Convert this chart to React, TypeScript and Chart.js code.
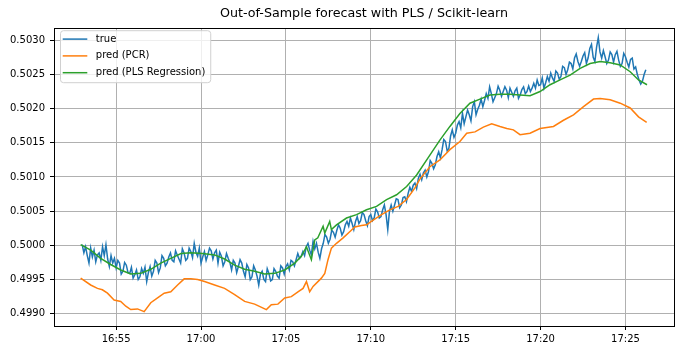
import React, { useEffect, useRef } from "react";
import { Chart, registerables } from "chart.js";

Chart.register(...registerables);

const FONT = "DejaVu Sans";
const chartTitle = "Out-of-Sample forecast with PLS / Scikit-learn";
const seriesNames = ["true", "pred (PCR)", "pred (PLS Regression)"];
const seriesColors = ["#1f77b4", "#ff7f0e", "#2ca02c"];

// time axis in minutes after 16:00
const xTickMinutes = [55, 60, 65, 70, 75, 80, 85];
const xTickLabels = ["16:55", "17:00", "17:05", "17:10", "17:15", "17:20", "17:25"];
const xMin = 51.34;
const xMax = 87.86;

const yTickValues = [0.499, 0.4995, 0.5, 0.5005, 0.501, 0.5015, 0.502, 0.5025, 0.503];
const yTickLabels = ["0.4990", "0.4995", "0.5000", "0.5005", "0.5010", "0.5015", "0.5020", "0.5025", "0.5030"];
const yMin = 0.49882;
const yMax = 0.50318;

// "true" series sampled every 0.1 min from 16:53 (one row = one minute)
const trueStartMinute = 53.0;
const trueStepMinutes = 0.1;
const trueValues = [
  0.50001, 0.49989, 0.49998, 0.49985, 0.49974, 0.49996, 0.49983, 0.49993, 0.49976, 0.49986,
  0.49989, 0.49978, 0.49998, 0.49985, 0.50001, 0.4998, 0.49969, 0.49985, 0.49974, 0.49981,
  0.49967, 0.49978, 0.49974, 0.49958, 0.49962, 0.49975, 0.49971, 0.4996, 0.49959, 0.49968,
  0.49952, 0.49957, 0.49964, 0.4995, 0.49954, 0.49966, 0.49959, 0.49968, 0.49947, 0.4996,
  0.49969, 0.49955, 0.49962, 0.49978, 0.49974, 0.4996, 0.49967, 0.49985, 0.49981, 0.4997,
  0.49974, 0.49983, 0.49989, 0.49978, 0.49976, 0.49992, 0.49986, 0.4998, 0.49974, 0.49995,
  0.49989, 0.49978, 0.49981, 0.49996, 0.49991, 0.49982, 0.50003, 0.4999, 0.49984, 0.49996,
  0.49974, 0.49983, 0.49991, 0.49978, 0.49986, 0.49996, 0.49992, 0.4998, 0.49989, 0.49993,
  0.49974, 0.4999, 0.49984, 0.4997, 0.49976, 0.49988, 0.49981, 0.49975, 0.49964, 0.49978,
  0.49974, 0.4996, 0.49969, 0.49979, 0.49974, 0.49962, 0.49954, 0.49972, 0.49967, 0.4995,
  0.49954, 0.4997, 0.49964, 0.49955, 0.49942, 0.49958, 0.49962, 0.4995, 0.49947, 0.49966,
  0.49959, 0.49948, 0.4995, 0.49966, 0.49962, 0.49955, 0.49952, 0.4997, 0.49967, 0.49958,
  0.49969, 0.49973, 0.49964, 0.49978, 0.49976, 0.4997, 0.49979, 0.49988, 0.49981, 0.49984,
  0.49991, 0.49985, 0.49998, 0.50003, 0.49993, 0.49986, 0.50006, 0.49995, 0.50003, 0.4999,
  0.49981, 0.49995, 0.50003, 0.50016, 0.50012, 0.50003, 0.50009, 0.50022, 0.50019, 0.50012,
  0.50022, 0.5003, 0.50025, 0.50015, 0.5002, 0.5003, 0.50035, 0.50028, 0.5004, 0.50032,
  0.50023, 0.50035, 0.50042, 0.50032, 0.50036, 0.50048, 0.50045, 0.50036, 0.50029, 0.50042,
  0.50045, 0.50036, 0.5004, 0.50053, 0.50049, 0.5004, 0.50042, 0.50052, 0.50059, 0.50045,
  0.50023, 0.5005, 0.50059, 0.5005, 0.50059, 0.50068, 0.50067, 0.50055, 0.50059, 0.5007,
  0.50071, 0.50064, 0.50076, 0.50085, 0.50079, 0.50088, 0.50091, 0.50083, 0.50098, 0.50104,
  0.50096, 0.50106, 0.5011, 0.501, 0.50108, 0.50124, 0.5012, 0.50112, 0.50118, 0.5013,
  0.50137, 0.50128, 0.5014, 0.50155, 0.50152, 0.50138, 0.50142, 0.5016, 0.50169, 0.50158,
  0.50164, 0.50176, 0.50181, 0.50172, 0.50193, 0.50178, 0.50188, 0.50198, 0.50191, 0.50182,
  0.50203, 0.5021, 0.50191, 0.50199, 0.50205, 0.50214, 0.50203, 0.50212, 0.50222, 0.50215,
  0.50232, 0.50222, 0.5021, 0.50216, 0.50222, 0.50233, 0.50227, 0.50218, 0.50225, 0.50232,
  0.50227, 0.50216, 0.5023, 0.50224, 0.50218, 0.50226, 0.5023, 0.50215, 0.5022, 0.50228,
  0.50232, 0.50222, 0.50225, 0.50233, 0.50225, 0.5023, 0.50237, 0.5023, 0.50242, 0.50234,
  0.50235, 0.50245, 0.5023, 0.50238, 0.50247, 0.5024, 0.50252, 0.50245, 0.5024, 0.50255,
  0.50252, 0.50243, 0.50247, 0.50262, 0.5026, 0.5025, 0.50257, 0.50268, 0.50266, 0.50258,
  0.50274, 0.5028, 0.50269, 0.50262, 0.50269, 0.50277, 0.50282, 0.50266, 0.50274, 0.50288,
  0.50294, 0.50275, 0.50269, 0.5029, 0.50304, 0.50283, 0.50274, 0.50285, 0.50276, 0.50266,
  0.50271, 0.50283, 0.50279, 0.50268, 0.50279, 0.50284, 0.50271, 0.50262, 0.50266, 0.50281,
  0.50276, 0.50268, 0.50261, 0.50272, 0.50274, 0.50258, 0.50261, 0.5025, 0.50242, 0.50236,
  0.5024, 0.5025, 0.50257,
];

const pcrMinutes = [
  52.91, 53.5, 53.9, 54.19, 54.49, 54.88, 55.27, 55.57, 55.86, 56.26,
  56.65, 57.04, 57.44, 57.83, 58.22, 58.62, 59.01, 59.4, 59.8, 60.21,
  60.8, 61.39, 61.98, 62.57, 63.16, 63.85, 64.14, 64.53, 64.93, 65.32,
  65.71, 66.01, 66.21, 66.4, 66.6, 67.09, 67.29, 67.48, 67.68, 67.98,
  68.37, 68.76, 69.06, 69.45, 69.75, 70.14, 70.63, 71.12, 71.61, 72.11,
  72.6, 72.89, 73.48, 74.07, 74.66, 75.25, 75.65, 76.14, 76.63, 77.12,
  77.61, 78.01, 78.4, 78.79, 79.38, 79.97, 80.76, 81.35, 81.94, 82.53,
  83.12, 83.51, 84.1, 84.69, 85.28, 85.77, 86.25,
];
const pcrValues = [
  0.49952, 0.49942, 0.49937, 0.49935, 0.4993, 0.4992, 0.49918, 0.49911, 0.49906, 0.49907,
  0.49903, 0.49916, 0.49923, 0.4993, 0.49932, 0.49942, 0.49951, 0.49951, 0.4995, 0.49947,
  0.49942, 0.49937, 0.49928, 0.49918, 0.49914, 0.49906, 0.49913, 0.49914, 0.49923, 0.49925,
  0.49932, 0.49937, 0.49947, 0.49932, 0.4994, 0.49952, 0.49959, 0.49979, 0.49996, 0.50003,
  0.50011, 0.5002, 0.50027, 0.50029, 0.5003, 0.50037, 0.50045, 0.50052, 0.50057, 0.50067,
  0.50084, 0.50097, 0.50115, 0.50125, 0.5014, 0.50152, 0.50164, 0.50166, 0.50173, 0.50178,
  0.50174, 0.50171, 0.50169, 0.50162, 0.50164, 0.50171, 0.50174, 0.50183, 0.50191, 0.50203,
  0.50214, 0.50215, 0.50213, 0.50208, 0.50201, 0.50188, 0.5018,
];

const plsMinutes = [
  52.91, 53.5, 54.09, 54.68, 55.27, 55.86, 56.45, 57.04, 57.63, 58.22,
  58.82, 59.4, 60.09, 60.8, 61.39, 61.98, 62.57, 63.16, 63.75, 64.34,
  64.93, 65.52, 65.91, 66.21, 66.5, 66.7, 66.88, 67.19, 67.29, 67.58,
  67.68, 67.98, 68.57, 69.16, 69.75, 70.34, 70.93, 71.52, 72.11, 72.7,
  73.48, 74.07, 74.66, 75.25, 75.84, 76.43, 77.02, 77.61, 78.2, 78.79,
  79.38, 79.97, 80.56, 81.15, 81.74, 82.33, 82.92, 83.51, 84.1, 84.69,
  85.28, 85.77, 86.27,
];
const plsValues = [
  0.50001, 0.49993, 0.49981, 0.49972, 0.49964, 0.49958, 0.49959, 0.49965, 0.49974, 0.49981,
  0.49988, 0.49989, 0.49988, 0.49986, 0.4998, 0.49971, 0.49965, 0.49962, 0.49958, 0.49959,
  0.49964, 0.49974, 0.49984, 0.49998, 0.49979, 0.50008, 0.50011, 0.50028, 0.50018, 0.50035,
  0.50023, 0.5003, 0.5004, 0.50045, 0.50052, 0.50057, 0.50067, 0.50074, 0.50086, 0.50103,
  0.50132, 0.50154, 0.50174, 0.50193, 0.50208, 0.50214, 0.5022, 0.50221, 0.50221, 0.5022,
  0.50219, 0.50225, 0.50235, 0.50242, 0.50249, 0.50259, 0.50266, 0.50269, 0.50267, 0.50264,
  0.50254, 0.50242, 0.50235,
];

export default function App() {
  const ref = useRef<HTMLCanvasElement>(null);

  useEffect(() => {
    const canvas = ref.current;
    if (!canvas) return;

    const trueData = trueValues.map((v, i) => ({ x: trueStartMinute + i * trueStepMinutes, y: v }));
    const pcrData = pcrMinutes.map((m, i) => ({ x: m, y: pcrValues[i] }));
    const plsData = plsMinutes.map((m, i) => ({ x: m, y: plsValues[i] }));

    const framePlugin = {
      id: "frameAndLegend",
      afterDatasetsDraw(chart: any) {
        const { ctx, chartArea: a } = chart;
        ctx.save();
        // axes frame
        const l = Math.round(a.left);
        const t = Math.round(a.top);
        const r = Math.round(a.right);
        const b = Math.round(a.bottom);
        ctx.strokeStyle = "#000";
        ctx.lineWidth = 1;
        ctx.strokeRect(l + 0.5, t + 0.5, r - l, b - t);

        // legend box
        ctx.font = `10px "${FONT}"`;
        const textW = Math.max(...seriesNames.map((n) => ctx.measureText(n).width));
        const bx = a.left + 6.5;
        const by = a.top + 2.7;
        const bw = 35.3 + textW + 5.4;
        const bh = 52;
        const rad = 3;
        ctx.beginPath();
        ctx.moveTo(bx + rad, by);
        ctx.lineTo(bx + bw - rad, by);
        ctx.quadraticCurveTo(bx + bw, by, bx + bw, by + rad);
        ctx.lineTo(bx + bw, by + bh - rad);
        ctx.quadraticCurveTo(bx + bw, by + bh, bx + bw - rad, by + bh);
        ctx.lineTo(bx + rad, by + bh);
        ctx.quadraticCurveTo(bx, by + bh, bx, by + bh - rad);
        ctx.lineTo(bx, by + rad);
        ctx.quadraticCurveTo(bx, by, bx + rad, by);
        ctx.closePath();
        ctx.fillStyle = "rgba(255,255,255,0.8)";
        ctx.fill();
        ctx.strokeStyle = "#d0d0d0";
        ctx.lineWidth = 1;
        ctx.stroke();

        seriesNames.forEach((name, i) => {
          const y = by + 8.4 + i * 16.8;
          ctx.beginPath();
          ctx.moveTo(bx + 2.2, y);
          ctx.lineTo(bx + 26.8, y);
          ctx.strokeStyle = seriesColors[i];
          ctx.lineWidth = 1.5;
          ctx.stroke();
          ctx.fillStyle = "#000";
          ctx.textBaseline = "middle";
          ctx.textAlign = "left";
          ctx.fillText(name, bx + 35.3, y);
        });
        ctx.restore();
      },
    };

    const chart = new Chart(canvas, {
      type: "line",
      data: {
        datasets: [
          {
            label: seriesNames[0],
            data: trueData,
            borderColor: seriesColors[0],
            backgroundColor: seriesColors[0],
            borderWidth: 1.5,
            pointRadius: 0,
            tension: 0,
            order: 3,
          },
          {
            label: seriesNames[1],
            data: pcrData,
            borderColor: seriesColors[1],
            backgroundColor: seriesColors[1],
            borderWidth: 1.5,
            pointRadius: 0,
            tension: 0,
            order: 2,
          },
          {
            label: seriesNames[2],
            data: plsData,
            borderColor: seriesColors[2],
            backgroundColor: seriesColors[2],
            borderWidth: 1.5,
            pointRadius: 0,
            tension: 0,
            order: 1,
          },
        ],
      },
      options: {
        responsive: false,
        maintainAspectRatio: false,
        devicePixelRatio: 1,
        animation: false,
        layout: { padding: { left: 0, right: 8, top: 0, bottom: 0 } },
        plugins: {
          legend: { display: false },
          tooltip: { enabled: false },
          title: {
            display: true,
            text: chartTitle,
            color: "#000",
            fullSize: false,
            font: { family: FONT, size: 12.7, weight: "normal" },
            padding: { top: 6, bottom: 6.76 },
          },
        },
        scales: {
          x: {
            type: "linear",
            min: xMin,
            max: xMax,
            afterBuildTicks: (s: any) => {
              s.ticks = xTickMinutes.map((v) => ({ value: v }));
            },
            afterFit: (s: any) => {
              s.height = 27;
            },
            ticks: {
              autoSkip: false,
              maxRotation: 0,
              minRotation: 0,
              padding: 3,
              color: "#000",
              font: { family: FONT, size: 10 },
              callback: (v: any) => xTickLabels[xTickMinutes.indexOf(Number(v))] ?? "",
            },
            grid: { color: "#b0b0b0", lineWidth: 1, tickColor: "#000", tickLength: 4, drawTicks: true },
            border: { display: false },
          },
          y: {
            type: "linear",
            min: yMin,
            max: yMax,
            afterBuildTicks: (s: any) => {
              s.ticks = yTickValues.map((v) => ({ value: v }));
            },
            afterFit: (s: any) => {
              s.width = 54;
            },
            ticks: {
              autoSkip: false,
              padding: 5,
              color: "#000",
              font: { family: FONT, size: 10 },
              callback: (v: any) => yTickLabels[yTickValues.indexOf(Number(v))] ?? "",
            },
            grid: { color: "#b0b0b0", lineWidth: 1, tickColor: "#000", tickLength: 4, drawTicks: true },
            border: { display: false },
          },
        },
      },
      plugins: [framePlugin],
    });

    return () => chart.destroy();
  }, []);

  return (
    <div style={{ position: "fixed", left: 0, top: 0, width: 682, height: 353, background: "#fff" }}>
      <canvas ref={ref} width={682} height={353} style={{ display: "block", width: 682, height: 353 }} />
    </div>
  );
}
